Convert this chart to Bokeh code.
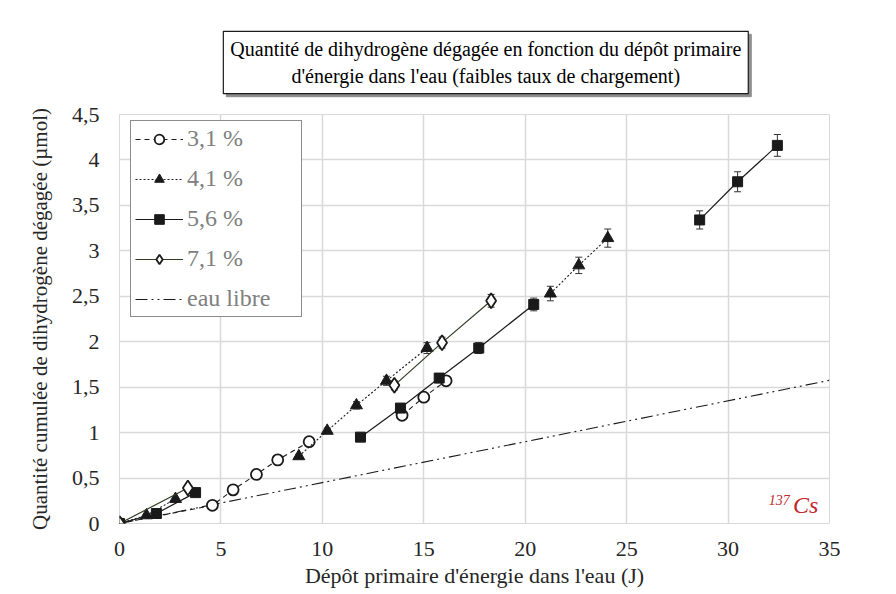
import math
from bokeh.plotting import figure
from bokeh.layouts import column
from bokeh.models import (ColumnDataSource, Range1d, FixedTicker, Whisker, TeeHead,
                          Label, Legend, LegendItem)
from bokeh.embed import file_html
from bokeh.resources import INLINE

nan = float("nan")

# ---- data (NaN = break in the connecting line) ----
x31 = [0, 4.58, 5.6, 6.75, 7.8, 9.35, nan, 13.93, 15.0, 16.1]
y31 = [0, 0.20, 0.37, 0.54, 0.70, 0.90, nan, 1.19, 1.39, 1.57]
e31 = [0, 0.01, 0.01, 0.02, 0.02, 0.03, nan, 0.04, 0.04, 0.05]

x41 = [0, 1.33, 2.76, nan, 8.84, 10.24, 11.68, 13.16, 15.16, nan, 21.24, 22.64, 24.07]
y41 = [0, 0.09, 0.27, nan, 0.74, 1.02, 1.30, 1.57, 1.93, nan, 2.53, 2.84, 3.14]
e41 = [0, 0.00, 0.01, nan, 0.02, 0.03, 0.04, 0.05, 0.06, nan, 0.08, 0.09, 0.10]

x56 = [0, 1.82, 3.75, nan, 11.88, 13.85, 15.76, 17.71, 20.42, nan, 28.6, 30.47, 32.43]
y56 = [0, 0.11, 0.34, nan, 0.95, 1.27, 1.60, 1.93, 2.41, nan, 3.34, 3.76, 4.16]
e56 = [0, 0.00, 0.01, nan, 0.03, 0.04, 0.05, 0.06, 0.07, nan, 0.10, 0.11, 0.12]

x71 = [0, 3.37, nan, 13.55, 15.9, 18.32]
y71 = [0, 0.39, nan, 1.52, 1.99, 2.45]
e71 = [0, 0.01, nan, 0.05, 0.06, 0.07]

x_eau = [0, 35]
y_eau = [0, 1.575]

x_ticks = [0, 5, 10, 15, 20, 25, 30, 35]
y_ticks = [0, 0.5, 1, 1.5, 2, 2.5, 3, 3.5, 4, 4.5]
y_tick_labels = ["0", "0,5", "1", "1,5", "2", "2,5", "3", "3,5", "4", "4,5"]

title_text = ("Quantité de dihydrogène dégagée en fonction du dépôt primaire\n"
              "d'énergie dans l'eau (faibles taux de chargement)")
x_label = "Dépôt primaire d'énergie dans l'eau (J)"
y_label = "Quantité cumulée de dihydrogène dégagée (µmol)"
series_names = ["3,1 %", "4,1 %", "5,6 %", "7,1 %", "eau libre"]

FONT = "Liberation Serif"
INK = "#1a1a1a"

# ---------- title strip ----------
t = figure(width=880, height=102, output_backend="svg", toolbar_location=None,
           x_range=Range1d(0, 880), y_range=Range1d(0, 102),
           x_axis_location=None, y_axis_location=None,
           min_border_left=0, min_border_right=0, min_border_top=0, min_border_bottom=0)
t.grid.visible = False
t.outline_line_color = None
t.add_layout(Label(x=454, y=40, text=title_text, text_align="center", text_baseline="middle",
                   text_font=FONT, text_font_size="20px", text_color="#8c8c8c",
                   x_offset=3, y_offset=-3, background_fill_color="#8c8c8c",
                   border_line_color="#8c8c8c", padding=7))
t.add_layout(Label(x=454, y=40, text=title_text, text_align="center", text_baseline="middle",
                   text_font=FONT, text_font_size="20px", text_color="#000000",
                   background_fill_color="white", border_line_color="#1a1a1a",
                   border_line_width=1.2, padding=7))

# ---------- main chart ----------
p = figure(width=880, height=488, output_backend="svg", toolbar_location=None,
           x_range=Range1d(0, 35), y_range=Range1d(0, 4.5),
           min_border_left=119, min_border_right=51, min_border_top=12, min_border_bottom=67)

p.outline_line_color = "#d9d9d9"
p.background_fill_color = "white"
p.border_fill_color = "white"

for ax in (p.xaxis[0], p.yaxis[0]):
    ax.axis_line_color = None
    ax.major_tick_line_color = None
    ax.minor_tick_line_color = None
    ax.major_label_text_font = FONT
    ax.major_label_text_font_size = "22px"
    ax.major_label_text_color = "#262626"
    ax.axis_label_text_font = FONT
    ax.axis_label_text_font_style = "normal"
    ax.axis_label_text_color = "#262626"

p.xaxis.axis_label_text_font_size = "22px"
p.yaxis.axis_label_text_font_size = "21px"
p.xaxis.ticker = FixedTicker(ticks=x_ticks)
p.yaxis.ticker = FixedTicker(ticks=y_ticks)
p.yaxis.major_label_overrides = {t_: l for t_, l in zip(y_ticks, y_tick_labels)}
p.xaxis.major_label_standoff = 12
p.yaxis.major_label_standoff = 14
p.xaxis.axis_label = x_label
p.yaxis.axis_label = y_label
p.xaxis.axis_label_standoff = 4
p.yaxis.axis_label_standoff = 17

p.xgrid.grid_line_color = "#d9d9d9"
p.ygrid.grid_line_color = "#d9d9d9"
p.xgrid.grid_line_width = 1.5
p.ygrid.grid_line_width = 1.5


def pts(xs, ys, es):
    keep = [i for i in range(len(xs)) if not math.isnan(xs[i])]
    return ColumnDataSource(dict(
        x=[xs[i] for i in keep], y=[ys[i] for i in keep],
        up=[ys[i] + es[i] for i in keep], lo=[ys[i] - es[i] for i in keep]))


def whisk(src):
    p.add_layout(Whisker(source=src, base="x", upper="up", lower="lo", dimension="height",
                         line_color="#333333", line_width=1,
                         upper_head=TeeHead(size=7, line_color="#333333", line_width=1),
                         lower_head=TeeHead(size=7, line_color="#333333", line_width=1)))


# eau libre
r_eau = p.line(x_eau, y_eau, line_color=INK, line_width=1.1, line_dash="12 4 2 4 2 4")

# 3,1 %
s31 = pts(x31, y31, e31)
l31 = p.line(x31, y31, line_color=INK, line_width=1.1, line_dash="5 4")
whisk(s31)
m31 = p.scatter("x", "y", source=s31, marker="circle", size=11, line_color=INK,
                line_width=1.8, fill_color="white")

# 4,1 %
s41 = pts(x41, y41, e41)
l41 = p.line(x41, y41, line_color=INK, line_width=1.1, line_dash="2 2")
whisk(s41)
m41 = p.scatter("x", "y", source=s41, marker="triangle", size=12, line_color=INK,
                fill_color=INK)

# 5,6 %
s56 = pts(x56, y56, e56)
l56 = p.line(x56, y56, line_color=INK, line_width=1.2)
whisk(s56)
m56 = p.scatter("x", "y", source=s56, marker="square", size=10, line_color=INK,
                fill_color=INK)

# 7,1 %
s71 = pts(x71, y71, e71)
l71 = p.line(x71, y71, line_color="#2f3d22", line_width=1.2)
whisk(s71)
m71 = p.scatter("x", "y", source=s71, marker="diamond", size=15, line_color=INK,
                line_width=1.8, fill_color="white")

legend = Legend(items=[
    LegendItem(label=series_names[0], renderers=[l31, m31]),
    LegendItem(label=series_names[1], renderers=[l41, m41]),
    LegendItem(label=series_names[2], renderers=[l56, m56]),
    LegendItem(label=series_names[3], renderers=[l71, m71]),
    LegendItem(label=series_names[4], renderers=[r_eau]),
], location=(11, 206))
legend.label_text_font = FONT
legend.label_text_font_size = "24px"
legend.label_text_color = "#808080"
legend.border_line_color = "#1a1a1a"
legend.border_line_width = 1.2
legend.background_fill_alpha = 1
legend.glyph_width = 48
legend.glyph_height = 24
legend.label_height = 24
legend.label_width = 110
legend.spacing = 13
legend.padding = 4
legend.margin = 0
legend.label_standoff = 4
p.add_layout(legend, "center")

# 137Cs annotation
p.add_layout(Label(x=33.2, y=0.06, text="Cs", text_font=FONT, text_font_size="24px",
                   text_font_style="italic", text_color="#c0262d"))
p.add_layout(Label(x=32.0, y=0.2, text="137", text_font=FONT, text_font_size="14px",
                   text_font_style="italic", text_color="#c0262d"))

layout = column(t, p, spacing=0)
open("out.html", "w").write(file_html(layout, INLINE))
